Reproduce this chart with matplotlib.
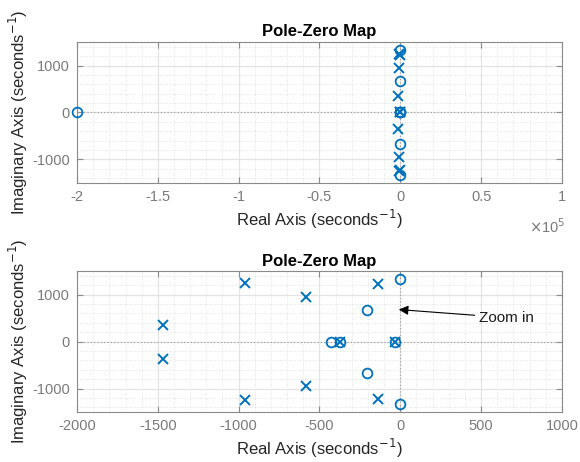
import numpy as np
import matplotlib
matplotlib.use("Agg")
import matplotlib.pyplot as plt
from matplotlib.ticker import MultipleLocator, FuncFormatter

plt.rcParams['font.family'] = ['Liberation Sans', 'DejaVu Sans']

pole_re = [-1467, -1467, -959, -959, -585, -585, -139, -139, -376, -33]
pole_im = [360, -360, 1245, -1245, 950, -950, 1223, -1223, 0, 0]
zero_re = [-4, -4, -205, -205, -429, -376, -33]
zero_im = [1331, -1331, 676, -676, 0, 0, 0]
# extra far zero, only visible on the wide map
far_zero_re = [-2e5]
far_zero_im = [0]

blue = '#0072BD'
tick_gray = '#7a7a7a'

fig = plt.figure(figsize=(5.8, 4.62), dpi=100)
ax1 = fig.add_axes([0.1328, 0.604, 0.836, 0.305])
ax2 = fig.add_axes([0.1328, 0.108, 0.836, 0.305])

def style(ax, xlim, xmaj, xmin, fmt):
    ax.set_xlim(*xlim)
    ax.set_ylim(-1500, 1500)
    ax.xaxis.set_major_locator(MultipleLocator(xmaj))
    ax.xaxis.set_minor_locator(MultipleLocator(xmin))
    ax.yaxis.set_major_locator(MultipleLocator(1000))
    ax.yaxis.set_minor_locator(MultipleLocator(200))
    ax.xaxis.set_major_formatter(FuncFormatter(fmt))
    ax.yaxis.set_major_formatter(FuncFormatter(lambda v, p: '%g' % v))
    ax.grid(which='major', color='#e3e3e3', lw=0.9, ls='-')
    ax.grid(which='minor', color='#d9d9d9', lw=0.6, ls=(0, (1, 2)))
    ax.set_axisbelow(True)
    ax.axhline(0, color='#9a9a9a', lw=0.8, ls=(0, (1, 2)), zorder=1)
    ax.axvline(0, color='#9a9a9a', lw=0.8, ls=(0, (1, 2)), zorder=1)
    ax.tick_params(which='both', direction='in', top=True, right=True,
                   colors='#8a8a8a', labelcolor=tick_gray, labelsize=10.5, pad=5)
    ax.tick_params(which='major', length=4)
    ax.tick_params(which='minor', length=0)
    for s in ax.spines.values():
        s.set_color('#8a8a8a')
        s.set_linewidth(0.8)
    ax.set_title('Pole-Zero Map', fontsize=12, fontweight='bold', pad=4)
    ax.set_xlabel('Real Axis (seconds$^{-1}$)', fontsize=12, color='#262626', labelpad=3)
    ax.set_ylabel('Imaginary Axis (seconds$^{-1}$)', fontsize=12, color='#262626', labelpad=2)

def draw(ax, extra=False):
    ax.plot(pole_re, pole_im, 'x', color=blue, ms=6.5, mew=1.4, zorder=3)
    ax.plot(zero_re, zero_im, 'o', color=blue, mfc='none', ms=7, mew=1.3, zorder=3)
    if extra:
        ax.plot(far_zero_re, far_zero_im, 'o', color=blue, mfc='none', ms=7, mew=1.3,
                zorder=3, clip_on=False)

draw(ax1, extra=True)
style(ax1, (-2e5, 1e5), 0.5e5, 0.1e5, lambda v, p: '%g' % (v / 1e5))
ax1.text(1.008, -0.31, r'$\times$10$^5$', transform=ax1.transAxes, ha='right',
         va='center', color=tick_gray, fontsize=10.5)

draw(ax2)
style(ax2, (-2000, 1000), 500, 100, lambda v, p: '%g' % v)
ax2.annotate('Zoom in', xy=(-9, 683), xytext=(486, 511), fontsize=11,
             va='center', ha='left', color='#1a1a1a',
             arrowprops=dict(arrowstyle='-|>', color='k', lw=0.8,
                             mutation_scale=14, shrinkA=1, shrinkB=0))

fig.savefig('out.png', dpi=100)
